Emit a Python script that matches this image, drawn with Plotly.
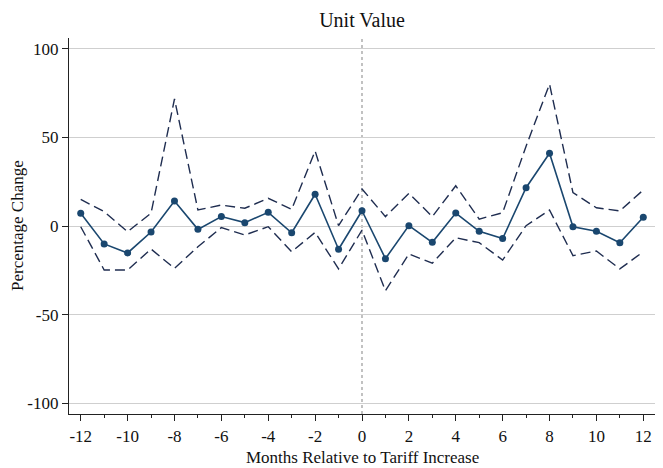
import plotly.graph_objects as go

# Event-study estimates: months relative to tariff increase
months = list(range(-12, 13))
estimate = [7.2, -10.1, -15.2, -3.4, 14.1, -1.9, 5.3, 1.9, 7.7, -3.8, 17.9, -13.1,
            8.6, -18.4, 0.2, -9.2, 7.3, -3.0, -7.1, 21.6, 41.0, -0.4, -3.0, -9.4, 4.9]
upper_ci = [15.0, 8.1, -3.2, 7.2, 71.6, 9.0, 11.8, 10.0, 15.6, 9.4, 42.3, 0.2,
            20.9, 5.3, 18.4, 5.3, 22.7, 3.9, 7.5, 45.0, 80.0, 18.8, 10.3, 8.5, 20.3]
lower_ci = [-0.4, -24.8, -24.8, -13.0, -23.9, -11.7, -0.9, -5.1, -0.4, -14.5, -3.6, -24.2,
            -2.3, -36.5, -15.8, -21.0, -6.6, -9.4, -19.2, 0.2, 9.0, -16.7, -14.1, -24.2, -14.5]
y_ticks = [-100, -50, 0, 50, 100]
x_ticks = list(range(-12, 13, 2))

navy = "#1a476f"
ci_color = "#1f2d50"
serif = "Liberation Serif"

fig = go.Figure()
for band in (upper_ci, lower_ci):
    fig.add_trace(go.Scatter(
        x=months, y=band, mode="lines",
        line=dict(color=ci_color, width=1.4, dash="10px,5px"),
        showlegend=False, hoverinfo="skip"))
fig.add_trace(go.Scatter(
    x=months, y=estimate, mode="lines+markers",
    line=dict(color=navy, width=1.6),
    marker=dict(color=navy, size=7),
    showlegend=False))

fig.add_shape(type="line", xref="x", yref="paper", x0=0, x1=0, y0=0, y1=1,
              line=dict(color="#999999", width=1.2, dash="3px,3px"), layer="below")

# Axis titles
fig.add_annotation(text="Months Relative to Tariff Increase", xref="paper", yref="paper",
                   x=0.5, y=0, yshift=-43, yanchor="middle", showarrow=False,
                   font=dict(family=serif, size=17, color="#111111"))
fig.add_annotation(text="Percentage Change", xref="paper", yref="paper",
                   x=0, y=0.5, xshift=-52, xanchor="center", textangle=-90, showarrow=False,
                   font=dict(family=serif, size=17, color="#111111"))

fig.update_layout(
    width=663, height=468,
    margin=dict(l=69, r=8, t=38, b=54),
    paper_bgcolor="white", plot_bgcolor="white",
    font=dict(family=serif, size=17, color="#111111"),
    title=dict(text="Unit Value", x=0.5, xref="paper", y=0.957, yanchor="middle",
               font=dict(family=serif, size=20, color="#111111")),
)
fig.update_xaxes(
    range=[-12.5, 12.5], tickvals=x_ticks, ticktext=[str(v) for v in x_ticks],
    ticks="outside", ticklen=6, tickcolor="#222", showgrid=False, zeroline=False,
    showline=True, linecolor="#222", linewidth=1.2, automargin=False,
    minor=dict(dtick=1, tick0=-12, ticks="outside", ticklen=3, tickcolor="#222", showgrid=False),
    tickfont=dict(family=serif, size=17),
)
fig.update_yaxes(
    range=[-106, 106], tickvals=y_ticks, ticktext=[str(v) for v in y_ticks],
    ticks="outside", ticklen=6, tickcolor="#222", showgrid=True, gridcolor="#cfcfcf",
    gridwidth=1, zeroline=False, showline=True, linecolor="#222", linewidth=1.2,
    automargin=False, tickfont=dict(family=serif, size=17),
)

fig.write_html("out.html")
